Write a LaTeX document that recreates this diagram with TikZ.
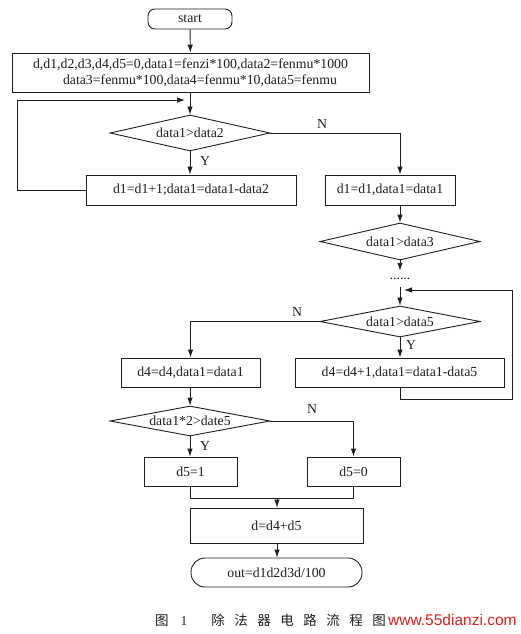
\documentclass[tikz,border=0pt]{standalone}
\usepackage{fontspec}
\setmainfont{Liberation Serif}
\newfontfamily\cjkfont{Noto Sans CJK SC}
\newfontfamily\wmfont{Liberation Sans}
\usetikzlibrary{shapes.geometric,arrows.meta}
\definecolor{ink}{RGB}{30,30,30}
\definecolor{wmred}{RGB}{215,35,35}
\tikzset{
  base/.style={draw=ink, line width=0.9pt, inner sep=0pt, text=ink, font=\fontsize{13.8}{16}\selectfont},
  procbox/.style={base, rectangle, minimum width=#1},
  termbox/.style={base, rectangle, rounded corners=#1},
  decision/.style={base, diamond, shape aspect=4.4, minimum width=160pt},
  lbl/.style={inner sep=0pt, text=ink, font=\fontsize{13.8}{16}\selectfont},
  flow/.style={draw=ink, line width=0.9pt, -{Latex[length=8pt,width=5.5pt]}},
  plain/.style={draw=ink, line width=0.9pt},
}
\begin{document}
\begin{tikzpicture}[x=1pt,y=-1pt]
\useasboundingbox[fill=white] (0,0) rectangle (521,634);

% nodes
\node[termbox=7pt, minimum width=84pt, minimum height=20pt] (start) at (190,19) {start};
\node[procbox=357pt, minimum height=39pt, align=left] (init) at (190.5,72.5)
  {d,d1,d2,d3,d4,d5=0,data1=fenzi*100,data2=fenmu*1000\\
   \hspace*{30pt}data3=fenmu*100,data4=fenmu*10,data5=fenmu};
\node[decision, minimum height=36pt] (dia1) at (190,133) {data1>data2};
\node[procbox=210pt, minimum height=30pt] (box1) at (191,190) {d1=d1+1;data1=data1-data2};
\node[procbox=130pt, minimum height=30pt] (box2) at (390,190) {d1=d1,data1=data1};
\node[decision, minimum height=37pt] (dia3) at (400,241.5) {data1>data3};
\node[lbl, minimum height=16pt] (dots) at (400,279) {......};
\node[decision, minimum height=31pt] (dia5) at (400,321.5) {data1>data5};
\node[procbox=139pt, minimum height=29pt] (box3) at (190.5,372.5) {d4=d4,data1=data1};
\node[procbox=209pt, minimum height=29pt] (box4) at (399.5,372.5) {d4=d4+1,data1=data1-data5};
\node[decision, minimum height=30pt] (dia6) at (190,421) {data1*2>date5};
\node[procbox=93pt, minimum height=29pt] (box5) at (190.5,471.5) {d5=1};
\node[procbox=93pt, minimum height=29pt] (box6) at (353.5,471.5) {d5=0};
\node[procbox=173pt, minimum height=35pt] (box7) at (276.5,525.5) {d=d4+d5};
\node[termbox=14pt, minimum width=171pt, minimum height=29pt] (out) at (276.5,572.5) {out=d1d2d3d/100};

% labels
\node[lbl] (n1) at (322,124) {N};
\node[lbl] (y1) at (205,161) {Y};
\node[lbl] (n5) at (297,312) {N};
\node[lbl] (y5) at (411,345) {Y};
\node[lbl] (n6) at (312,409) {N};
\node[lbl] (y6) at (205,446) {Y};

% helper coordinates
\coordinate (lp) at (17,100);
\coordinate (lpend) at (185,100);
\coordinate (colR) at (400,0);
\coordinate (l5a) at (512,399);
\coordinate (l5b) at (404,290);
\coordinate (m) at (277,498);

% connectors
\draw[flow] (start) -- (init);
\draw[flow] (init.south -| dia1) -- (dia1.north);
\draw[flow] (box1.west) -- (box1.west -| lp) -- (lp) -- (lpend);
\draw[flow] (dia1.south) -- (box1.north -| dia1.south);
\draw[flow] (dia1.east) -| (box2.north -| colR);
\draw[flow] (box2.south -| colR) -- (dia3.north);
\draw[flow] (dia3.south) -- (dots.north);
\draw[flow] (dots.south) -- (dia5.north);
\draw[flow] (box4.south -| colR) |- (l5a) |- (l5b);
\draw[flow] (dia5.west) -| (box3.north);
\draw[flow] (dia5.south) -- (box4.north -| dia5.south);
\draw[flow] (box3.south -| dia6) -- (dia6.north);
\draw[flow] (dia6.south) -- (box5.north -| dia6.south);
\draw[flow] (dia6.east) -| (box6.north);
\draw[plain] (box5.south) |- (box6.south |- m) -- (box6.south);
\draw[flow] (m) -- (box7.north -| m);
\draw[flow] (box7.south -| m) -- (out.north -| m);

% caption and watermark
\node[anchor=west, inner sep=0pt, text=ink, font=\fontsize{13.5}{16}\selectfont] (cap) at (155,620)
  {\cjkfont 图\hspace{12pt}\rmfamily 1\hspace{24pt}\cjkfont 除\hspace{9.5pt}法\hspace{9.5pt}器\hspace{9.5pt}电\hspace{9.5pt}路\hspace{9.5pt}流\hspace{9.5pt}程\hspace{9.5pt}图};
\node[anchor=west, inner sep=0pt, text=wmred, font=\wmfont\fontsize{15.5}{17}\selectfont] (wm) at (388,620) {www.55dianzi.com};
\end{tikzpicture}
\end{document}
